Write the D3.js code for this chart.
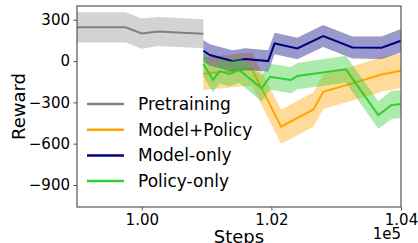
<!DOCTYPE html>
<html lang="en">
  <head>
    <meta charset="utf-8">
    <style>
      body { margin: 0; background: #fff; }
      text { font-family: "DejaVu Sans", sans-serif; }
    </style>
  </head>
  <body>
    <div id="viz"></div>
    <script src="https://cdn.jsdelivr.net/npm/d3@7/dist/d3.min.js"></script>
<script type="text/javascript">

var w = 418, h = 243;
var margin = {left: 77, right: 17, top: 6, bottom: 36};

// data
var seriesNames = ["Pretraining", "Model+Policy", "Model-only", "Policy-only"];
var seriesColors = ["#808080", "#ffa500", "#000080", "#32cd32"];

var pretrainSteps = [99000, 99750, 100000, 100250, 100950];
var pretrainMean  = [245, 245, 200, 215, 198];
var pretrainStd   = [110, 110, 110, 105, 105];

var mpSteps = [100950, 101070, 101300, 101500, 101700, 102150, 102650, 102800, 103250, 103700, 104000];
var mpMean  = [-94, -85, -77, -65, -60, -477, -351, -223, -162, -97, -70];
var mpStd   = [118, 118, 118, 120, 120, 125, 125, 125, 125, 125, 125];

var moSteps = [100950, 101050, 101250, 101400, 101600, 101950, 102050, 102400, 102800, 103250, 103700, 104000];
var moMean  = [75, 44, 19, 0, 15, 0, 128, 92, 182, 99, 97, 148];
var moStd   = [78, 78, 78, 78, 78, 78, 78, 78, 80, 80, 82, 85];

var poSteps = [100950, 101100, 101200, 101350, 101500, 101850, 101980, 102300, 102400, 103150, 103650, 103850, 104000];
var poMean  = [-22, -138, -73, -94, -65, -198, -114, -138, -109, -60, -392, -320, -312];
var poStd   = [90, 90, 90, 90, 92, 95, 95, 95, 95, 98, 100, 102, 102];

var yTicks = [300, 0, -300, -600, -900];
var xTicks = [100000, 102000, 104000];
var xTickLabels = ["1.00", "1.02", "1.04"];

function zip(steps, mean, std){
  return steps.map((s,i)=>({x:s, m:mean[i], s:std[i]}));
}

var allSeries = [
  zip(pretrainSteps, pretrainMean, pretrainStd),
  zip(mpSteps, mpMean, mpStd),
  zip(moSteps, moMean, moStd),
  zip(poSteps, poMean, poStd)
];
var bandAlpha = [0.35, 0.4, 0.4, 0.4];

var x = d3.scaleLinear().domain([99000, 104000]).range([margin.left, w - margin.right]);
var y = d3.scaleLinear().domain([-1060, 400]).range([h - margin.bottom, margin.top]);

var svg = d3.select("#viz")
        .append("svg")
        .attr("width", w)
        .attr("height", h);

var area = d3.area()
  .x(d=>x(d.x))
  .y0(d=>y(d.m - d.s))
  .y1(d=>y(d.m + d.s));

var line = d3.line()
  .x(d=>x(d.x))
  .y(d=>y(d.m));

allSeries.forEach((data, i)=>{
  svg.append("path")
    .datum(data)
    .attr("d", area)
    .style("fill", seriesColors[i])
    .style("fill-opacity", bandAlpha[i])
    .style("stroke", "none");
  svg.append("path")
    .datum(data)
    .attr("d", line)
    .style("fill", "none")
    .style("stroke", seriesColors[i])
    .style("stroke-width", 2);
});

var axisColor = "#555";

var yAxis = svg.append("g")
  .attr("transform", "translate(" + margin.left + ",0)")
  .call(d3.axisLeft(y).tickValues(yTicks).tickSize(3.5).tickPadding(3.5)
        .tickFormat(d=>d3.format("d")(d).replace("-", "\u2212")));

var xAxis = svg.append("g")
  .attr("transform", "translate(0," + (h - margin.bottom) + ")")
  .call(d3.axisBottom(x).tickValues(xTicks).tickSize(3.5).tickPadding(3.5)
        .tickFormat((d,i)=>xTickLabels[i]));

[yAxis, xAxis].forEach(g=>{
  g.select(".domain").remove();
  g.selectAll(".tick line").style("stroke", axisColor).style("stroke-width", 1);
  g.selectAll(".tick text").style("font-size", "15px").style("fill", "#000")
    .style("font-family", "DejaVu Sans");
});

// frame
svg.append("rect")
  .attr("x", margin.left)
  .attr("y", margin.top)
  .attr("width", w - margin.left - margin.right)
  .attr("height", h - margin.top - margin.bottom)
  .style("fill", "none")
  .style("stroke", axisColor)
  .style("stroke-width", 1.2);

svg.append("text")
  .attr("transform", "translate(25," + ((margin.top + h - margin.bottom) / 2) + ") rotate(-90)")
  .attr("text-anchor", "middle")
  .style("font-size", "18px")
  .text("Reward");

svg.append("text")
  .attr("x", (margin.left + w - margin.right) / 2)
  .attr("y", 243)
  .attr("text-anchor", "middle")
  .style("font-size", "18px")
  .text("Steps");

svg.append("text")
  .attr("x", w - margin.right)
  .attr("y", 238.5)
  .attr("text-anchor", "end")
  .style("font-size", "15px")
  .text("1e5");

// legend
var legend = svg.append("g");
seriesNames.forEach((name, i)=>{
  var ly = 104 + i * 25.7;
  legend.append("line")
    .attr("x1", 87).attr("x2", 124)
    .attr("y1", ly).attr("y2", ly)
    .style("stroke", seriesColors[i])
    .style("stroke-width", 2.5);
  legend.append("text")
    .attr("x", 138)
    .attr("y", ly)
    .attr("dominant-baseline", "central")
    .style("font-size", "17px")
    .text(name);
});

  </script>
  </body>
</html>
